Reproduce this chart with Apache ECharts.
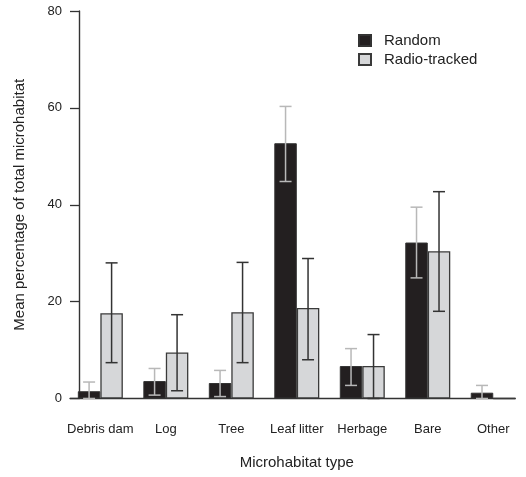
<!DOCTYPE html>
<html>
<head>
<meta charset="utf-8">
<script src="https://cdn.jsdelivr.net/npm/echarts@6/dist/echarts.min.js"></script>
<style>html,body{margin:0;padding:0;background:#fff}#c{width:526px;height:477px}</style>
</head>
<body>
<div id="c"></div>
<script>
var categories = ['Debris dam', 'Log', 'Tree', 'Leaf litter', 'Herbage', 'Bare', 'Other'];
var randomMean = [1.5, 3.6, 3.2, 52.7, 6.7, 32.2, 1.2];
var randomUpper = [3.4, 6.2, 5.8, 60.3, 10.3, 39.5, 2.7];
var randomLower = [0, 0.7, 0.4, 44.8, 2.7, 24.9, 0];
var radioMean = [17.6, 9.5, 17.8, 18.7, 6.7, 30.4, 0];
var radioUpper = [28.0, 17.3, 28.1, 28.9, 13.2, 42.7, null];
var radioLower = [7.4, 1.6, 7.4, 8.0, 0, 18.0, null];
var yTicks = [0, 20, 40, 60, 80];

var BAR_W = 22.5;
var FONT = 'Liberation Sans, Arial, sans-serif';

function errData(up, lo) {
  var out = [];
  for (var i = 0; i < categories.length; i++) {
    if (up[i] != null) out.push([i, lo[i], up[i]]);
  }
  return out;
}

function errRender(offset, color) {
  return function (params, api) {
    var lo = api.coord([api.value(0), api.value(1)]);
    var hi = api.coord([api.value(0), api.value(2)]);
    var x = lo[0] + offset;
    var cap = 6;
    var style = { stroke: color, lineWidth: 1.5 };
    return {
      type: 'group',
      children: [
        { type: 'line', shape: { x1: x, y1: hi[1], x2: x, y2: lo[1] }, style: style },
        { type: 'line', shape: { x1: x - cap, y1: hi[1], x2: x + cap, y2: hi[1] }, style: style },
        { type: 'line', shape: { x1: x - cap, y1: lo[1], x2: x + cap, y2: lo[1] }, style: style }
      ]
    };
  };
}

var chart = echarts.init(document.getElementById('c'), null, { renderer: 'canvas' });
chart.setOption({
  animation: false,
  backgroundColor: '#fff',
  textStyle: { fontFamily: FONT },
  grid: [
    { left: 67.6, width: 467.9, top: 11, height: 387.5 },
    { left: 79, width: 436, top: 11, height: 387.5 },
    { left: 70, width: 445, top: 11, height: 387.5 }
  ],
  legend: {
    orient: 'vertical',
    left: 358,
    top: 33,
    padding: 0,
    itemWidth: 12,
    itemHeight: 11,
    itemGap: 4,
    icon: 'rect',
    textStyle: { fontSize: 15, color: '#222', fontFamily: FONT, padding: [0, 0, 0, 8] },
    data: ['Random', 'Radio-tracked']
  },
  xAxis: [
    {
      type: 'category', gridIndex: 0, data: categories,
      axisLine: { show: false }, axisTick: { show: false },
      axisLabel: { fontSize: 13, color: '#222', margin: 24, fontFamily: FONT, interval: 0 },
      name: 'Microhabitat type', nameLocation: 'middle', nameGap: 57,
      nameTextStyle: { fontSize: 15, color: '#222', fontFamily: FONT }
    },
    { type: 'value', gridIndex: 1, show: false, min: 0, max: 1 },
    {
      type: 'value', gridIndex: 2, min: 0, max: 1,
      axisLine: { show: true, lineStyle: { color: '#333', width: 1.4 } },
      axisTick: { show: false }, axisLabel: { show: false }, splitLine: { show: false }
    }
  ],
  yAxis: [
    { type: 'value', gridIndex: 0, min: 0, max: 80, interval: 20, show: false },
    {
      type: 'value', gridIndex: 1, min: 0, max: 80, interval: 20,
      axisLine: { show: true, lineStyle: { color: '#333', width: 1.4 } },
      axisTick: { show: true, length: 9, lineStyle: { color: '#333', width: 1.3 } },
      axisLabel: { fontSize: 13, color: '#222', margin: 17, fontFamily: FONT,
        formatter: function (v) { return yTicks.indexOf(v) >= 0 ? String(v) : ''; } },
      splitLine: { show: false },
      name: 'Mean percentage of total microhabitat', nameLocation: 'middle', nameGap: 52,
      nameTextStyle: { fontSize: 15, color: '#222', fontFamily: FONT }
    },
    { type: 'value', gridIndex: 2, min: 0, max: 80, show: false }
  ],
  series: [
    {
      name: 'Random', type: 'bar', xAxisIndex: 0, yAxisIndex: 0,
      data: randomMean, barWidth: BAR_W, barGap: '0%',
      itemStyle: { color: '#231f20', borderColor: '#333', borderWidth: 1 }
    },
    {
      name: 'Radio-tracked', type: 'bar', xAxisIndex: 0, yAxisIndex: 0,
      data: radioMean, barWidth: BAR_W, barGap: '0%',
      itemStyle: { color: '#d6d7d9', borderColor: '#3a3a3a', borderWidth: 1.3 }
    },
    {
      type: 'custom', xAxisIndex: 0, yAxisIndex: 0, z: 5,
      renderItem: errRender(-BAR_W / 2, '#b8b8b8'),
      data: errData(randomUpper, randomLower)
    },
    {
      type: 'custom', xAxisIndex: 0, yAxisIndex: 0, z: 5,
      renderItem: errRender(BAR_W / 2, '#333'),
      data: errData(radioUpper, radioLower)
    }
  ]
});
</script>
</body>
</html>
